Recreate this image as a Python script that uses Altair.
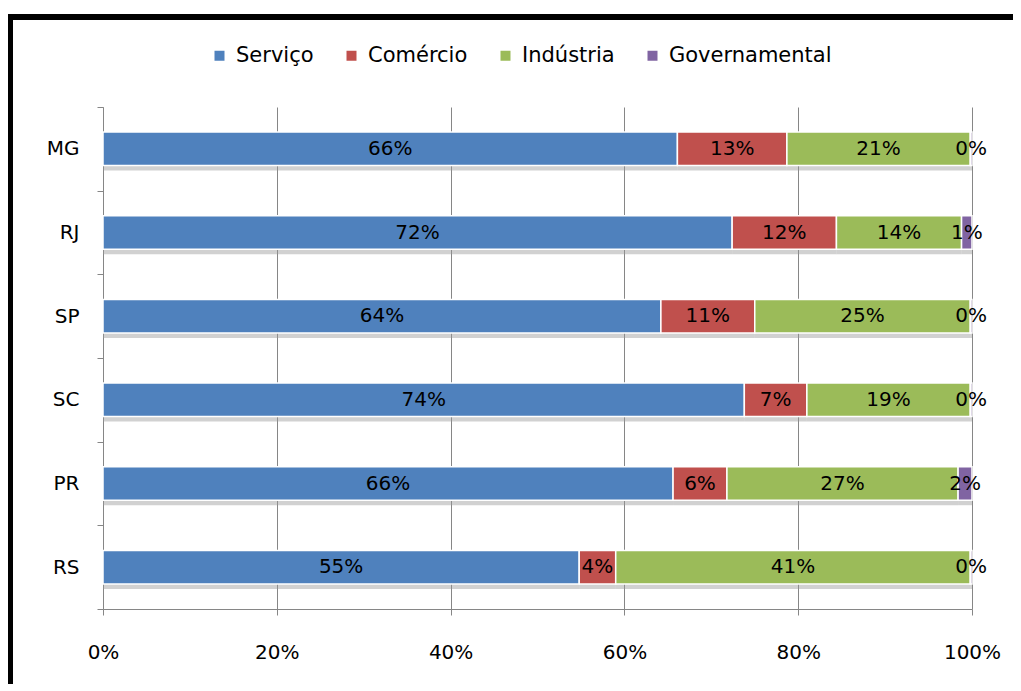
import altair as alt
import pandas as pd

states = ["MG", "RJ", "SP", "SC", "PR", "RS"]
sectors = ["Serviço", "Comércio", "Indústria", "Governamental"]
servico = [66.1, 72.4, 64.2, 73.8, 65.6, 54.8]
comercio = [12.6, 12.0, 10.8, 7.2, 6.2, 4.2]
industria = [21.1, 14.4, 24.8, 18.8, 26.6, 40.8]
governamental = [0.2, 1.2, 0.2, 0.2, 1.6, 0.2]
colors = ["#4F81BD", "#C0504D", "#9BBB59", "#8064A2"]
x_ticks = [0, 20, 40, 60, 80, 100]

rows = []
for i, s in enumerate(states):
    for j, vals in enumerate([servico, comercio, industria, governamental]):
        rows.append({"state": s, "sector": sectors[j], "ord": j, "pct": vals[i]})
df = pd.DataFrame(rows)

FONT = "DejaVu Sans"
GRAY = "#868686"
FS = 20

base = alt.Chart(df).transform_stack(
    stack="pct", as_=["x0", "x1"], groupby=["state"], sort=[alt.SortField("ord")]
).transform_calculate(
    mid="(datum.x0 + datum.x1) / 2",
    label="format(datum.pct / 100, '.0%')",
)

xscale = alt.Scale(domain=[0, 100], nice=False, zero=True)
yscale = alt.Scale(domain=states, paddingInner=0, paddingOuter=0)

y_enc = alt.Y(
    "state:N",
    scale=yscale,
    axis=alt.Axis(
        title=None, labelFontSize=FS, labelFont=FONT, labelColor="#000",
        labelPadding=18, tickSize=6, tickBand="extent", domainColor=GRAY,
        tickColor=GRAY, grid=False,
    ),
)

shadow = base.mark_bar(
    color="#9a9a9a", opacity=0.45, yOffset=5, height=alt.RelativeBandSize(0.4)
).encode(x=alt.X("x0:Q", scale=xscale), x2="x1:Q", y=y_enc)

bars = base.mark_bar(
    stroke="white", strokeWidth=1.5, height=alt.RelativeBandSize(0.4)
).encode(
    x=alt.X(
        "x0:Q",
        scale=xscale,
        axis=alt.Axis(
            title=None, values=x_ticks, labelExpr="datum.value + '%'",
            labelFontSize=FS, labelFont=FONT, labelColor="#000",
            labelFlush=False, labelPadding=27, tickSize=6, grid=True,
            gridColor=GRAY, domainColor=GRAY, tickColor=GRAY,
        ),
    ),
    x2="x1:Q",
    y=y_enc,
    color=alt.Color(
        "sector:N",
        scale=alt.Scale(domain=sectors, range=colors),
        legend=alt.Legend(
            orient="none", legendX=106, legendY=-62, direction="horizontal",
            title=None, symbolType="square", symbolSize=100,
            labelFontSize=21, labelFont=FONT, labelColor="#000",
            labelLimit=400, columnPadding=27, labelOffset=6,
            symbolStrokeWidth=0,
        ),
    ),
)

text = base.mark_text(fontSize=FS, font=FONT, color="#000").encode(
    x=alt.X("mid:Q", scale=xscale), y=y_enc, text="label:N"
)

frame_df = pd.DataFrame({"k": [0]})
top_line = alt.Chart(frame_df).mark_rule(color="#000", strokeWidth=6).encode(
    x=alt.value(-96), x2=alt.value(920), y=alt.value(-90)
)
left_line = alt.Chart(frame_df).mark_rule(color="#000", strokeWidth=6).encode(
    x=alt.value(-93), y=alt.value(-93), y2=alt.value(590)
)

chart = alt.layer(shadow, bars, text, top_line, left_line).properties(
    width=869, height=502,
    autosize=alt.AutoSizeParams(type="none"),
    padding={"left": 95, "top": 99, "right": 41, "bottom": 75},
).configure_view(stroke=None)

chart.save("out.html", embed_options={"renderer": "svg", "actions": False})
